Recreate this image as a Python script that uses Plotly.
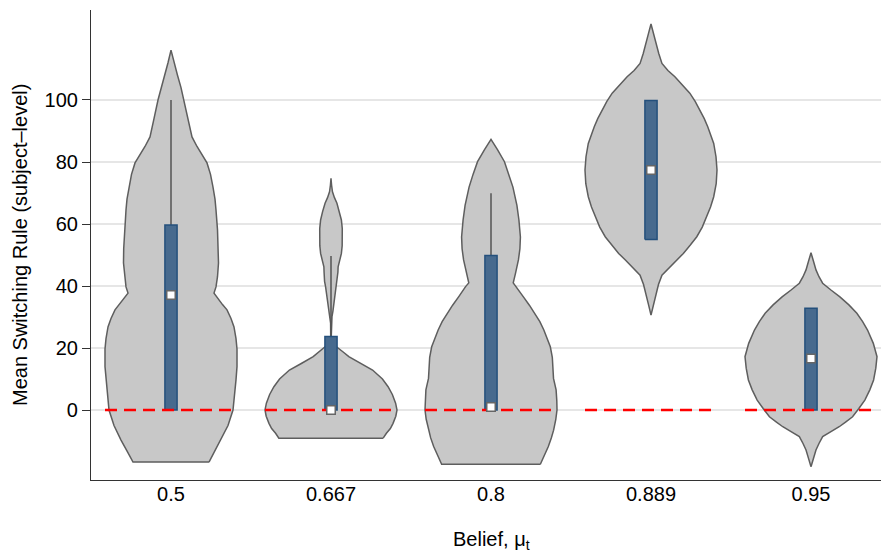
import plotly.graph_objects as go

# Belief levels (categories)
beliefs = ["0.5", "0.667", "0.8", "0.889", "0.95"]

# Box-plot summary of the subject-level mean switching rule
q1 = [0, 0, 0, 55, 0]
median = [37.1, 0, 1.0, 77.4, 16.6]
q3 = [59.7, 23.7, 49.8, 99.8, 32.8]
upper_adj = [100, 49.7, 69.9, 99.8, 32.8]
lower_adj = [0, 0, 0, 55, 0]

# Kernel density profiles (grid value, density in arbitrary units)
grid_05 = [116.1, 112, 108, 104, 100, 94, 88.1, 85, 82, 79.7, 76, 71.9, 68, 64.5,
           58.1, 52, 47.4, 43, 39.7, 37.7, 36, 34, 32.3, 29.5, 26.8, 23, 19.7, 14,
           9.7, 4, 0, -5, -9.7, -13.5, -16.8]
dens_05 = [0, 3, 6.5, 10, 13, 17, 21, 26, 31.5, 36, 39.5, 42, 44, 45,
           46.5, 47.3, 47.5, 46.5, 45, 43, 47, 51.5, 56, 60, 63, 65, 66, 66,
           65, 63.5, 62, 57, 50, 43.5, 38]

grid_0667 = [74.7, 72.5, 70.4, 68.5, 66.7, 64, 61.3, 58.5, 55.9, 53, 50.5, 48, 46.2,
             44.5, 43, 41.5, 39.8, 37, 34.4, 32, 30.1, 28, 24, 21.6, 20.4, 18.8, 17.2,
             15, 12.9, 10, 7.5, 5, 2.2, 0, -2, -4.3, -6, -7.5, -9.1]
dens_0667 = [0, 0.6, 1.5, 3.5, 6, 8.5, 10.5, 11.4, 11.7, 11.3, 10.5, 8.5, 7.2,
             7, 7, 6.5, 5.5, 4.2, 3, 2, 1, 0.4, 0.3, 0.6, 6, 12, 18,
             30, 42, 52, 57.7, 62, 65.3, 66.7, 65.5, 62.7, 60, 56, 52.7]

grid_08 = [87.3, 84, 80.1, 76, 71.9, 66, 61.3, 55.8, 52, 48.4, 44, 41, 39.8, 38,
           36.5, 33.8, 31.2, 28.5, 25.8, 23, 20.4, 17, 14, 10.2, 6.5, 3, 0, -3,
           -6.5, -9, -11.8, -15, -17.5]
dens_08 = [0, 6.5, 13.5, 18, 22, 26, 28, 29.5, 29, 27.5, 24.5, 22.3, 25.5, 29,
           32.5, 38.5, 44, 49, 53, 56.5, 59.5, 61.5, 62.3, 62.7, 65.3, 66, 66.2, 65,
           62.8, 60.5, 57.5, 53, 49.5]

grid_0889 = [124.5, 121.5, 118.3, 115, 111.8, 109.5, 107.5, 105, 102.2, 99.5, 96.8,
             94, 91.4, 88.7, 86, 81.7, 77.4, 73, 68.8, 65.5, 62.4, 59, 55.9, 53.2,
             50.5, 48.3, 46.2, 44.8, 43.5, 40.5, 37.6, 34, 30.6]
dens_0889 = [0, 2.5, 5, 7.8, 11, 17, 24, 31.5, 39, 44.5, 49,
             53.5, 57, 60.3, 63, 65.3, 66.3, 65.5, 63, 59.8, 56, 51.5, 46, 39.5,
             32.5, 25.5, 19, 15, 11, 7.5, 5, 2.5, 0]

grid_095 = [50.7, 48, 45.2, 43, 40.9, 38.7, 36.5, 33.9, 31.2, 28.5, 25.8, 21.5, 17.2,
            13.5, 9.7, 6.5, 3.2, 0.5, -2.2, -3.8, -5.4, -7, -8.6, -10.8, -12.9,
            -15.6, -18.3]
dens_095 = [0, 2.5, 5, 8, 11.7, 20, 29, 38, 46, 51.8, 56.7, 62.5, 66.2,
            65, 62.8, 59, 54, 48, 41.7, 35, 28.3, 20, 11.7, 8, 5,
            2.5, 0]

grids = [grid_05, grid_0667, grid_08, grid_0889, grid_095]
densities = [dens_05, dens_0667, dens_08, dens_0889, dens_095]

VIOLIN_HALF = 0.4125   # half-width of the widest point, in category units
BOX_HALF = 0.038
REF_HALF = 0.4125

VIOLIN_FILL = "#c8c8c8"
VIOLIN_LINE = "#5e5e5e"
BOX_FILL = "#476a8e"
BOX_LINE = "#24507c"

fig = go.Figure()

# Violins: mirrored density outlines
for i, (g, d) in enumerate(zip(grids, densities)):
    dmax = max(d)
    right_x = [i + v / dmax * VIOLIN_HALF for v in d]
    left_x = [i - v / dmax * VIOLIN_HALF for v in d]
    xs = right_x[::-1] + left_x + [right_x[-1]]
    ys = g[::-1] + g + [g[-1]]
    fig.add_trace(go.Scatter(
        x=xs, y=ys, mode="lines", fill="toself", fillcolor=VIOLIN_FILL,
        line=dict(color=VIOLIN_LINE, width=1.5), hoverinfo="skip", showlegend=False))

# Whiskers (adjacent values)
for i in range(len(beliefs)):
    for lo, hi in ((q3[i], upper_adj[i]), (lower_adj[i], q1[i])):
        if hi > lo:
            fig.add_trace(go.Scatter(
                x=[i, i], y=[lo, hi], mode="lines",
                line=dict(color="#555555", width=1.5), hoverinfo="skip", showlegend=False))

# Interquartile boxes
for i in range(len(beliefs)):
    fig.add_trace(go.Scatter(
        x=[i - BOX_HALF, i + BOX_HALF, i + BOX_HALF, i - BOX_HALF, i - BOX_HALF],
        y=[q1[i], q1[i], q3[i], q3[i], q1[i]],
        mode="lines", fill="toself", fillcolor=BOX_FILL,
        line=dict(color=BOX_LINE, width=1.5), hoverinfo="skip", showlegend=False))

# Reference line at zero for each belief level
for i in range(len(beliefs)):
    fig.add_trace(go.Scatter(
        x=[i - REF_HALF, i + REF_HALF], y=[0, 0], mode="lines",
        line=dict(color="#ff0000", width=2.5, dash="12px,7px"),
        hoverinfo="skip", showlegend=False))

# Medians
fig.add_trace(go.Scatter(
    x=list(range(len(beliefs))), y=median, mode="markers",
    marker=dict(symbol="square", size=8.5, color="white",
                line=dict(color="#666666", width=1.5)),
    showlegend=False))

font = "Liberation Sans, Arial, sans-serif"
FS = 20

fig.update_layout(
    width=881, height=554,
    margin=dict(l=91, r=0, t=10, b=74),
    paper_bgcolor="white", plot_bgcolor="white",
    font=dict(family=font, size=FS, color="#000000"),
    xaxis=dict(
        range=[-0.5, 4.4375],
        tickvals=list(range(len(beliefs))), ticktext=beliefs,
        ticks="", showline=True, linecolor="#333333", linewidth=1.2,
        showgrid=False, zeroline=False, ticklabelstandoff=-4,
    ),
    yaxis=dict(
        range=[-22.58, 129.03],
        tickvals=[0, 20, 40, 60, 80, 100],
        ticks="outside", ticklen=8, tickcolor="#333333", tickwidth=1.2,
        showline=True, linecolor="#333333", linewidth=1.2,
        showgrid=True, gridcolor="#e6e6e6", gridwidth=1.5, zeroline=False,
    ),
    annotations=[
        dict(text="Belief, \u03bc<sub>t</sub>", x=2, y=0, xref="x", yref="paper",
             xanchor="center", yanchor="middle", yshift=-60, showarrow=False,
             font=dict(family=font, size=FS, color="#000000")),
        dict(text="Mean Switching Rule (subject\u2013level)", x=0, y=0.5,
             xref="paper", yref="paper", xanchor="center", yanchor="middle",
             xshift=-71, textangle=-90,
             showarrow=False, font=dict(family=font, size=FS, color="#000000")),
    ],
)

fig.write_html("out.html")
